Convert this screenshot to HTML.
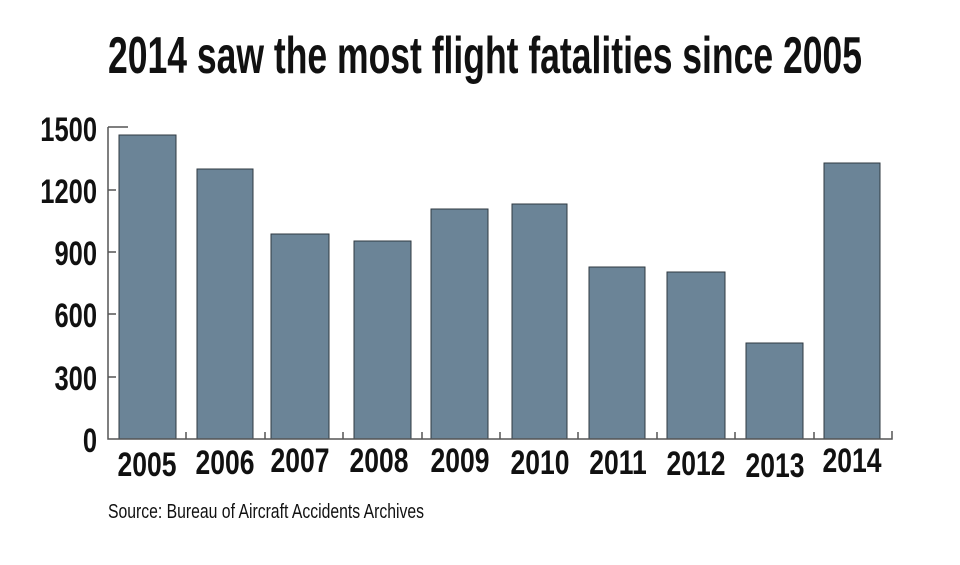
<!DOCTYPE html>
<html><head><style>
body{margin:0;background:#fff;}
svg text{font-family:"Liberation Sans Narrow","Liberation Sans",sans-serif;font-weight:bold;fill:#111;}
.y{font-size:34px;text-anchor:end;}
.x{font-size:34px;text-anchor:middle;}
</style></head><body>
<svg width="960" height="560" viewBox="0 0 960 560" xmlns="http://www.w3.org/2000/svg">
<text x="485" y="73" text-anchor="middle" font-size="52" textLength="754" lengthAdjust="spacingAndGlyphs">2014 saw the most flight fatalities since 2005</text>
<g fill="#6b8497" stroke="#2f3a42" stroke-width="1">
<rect x="119" y="135" width="57" height="304"/>
<rect x="197" y="169" width="56" height="270"/>
<rect x="271" y="234" width="58" height="205"/>
<rect x="354" y="241" width="57" height="198"/>
<rect x="431" y="209" width="57" height="230"/>
<rect x="512" y="204" width="55" height="235"/>
<rect x="589" y="267" width="56" height="172"/>
<rect x="667" y="272" width="58" height="167"/>
<rect x="746" y="343" width="57" height="96"/>
<rect x="824" y="163" width="56" height="276"/>
</g>
<g stroke="#555" stroke-width="1.5" fill="none">
<path d="M108 127V439H892V431"/>
<path d="M108 127h20M108 190h8M108 252h8M108 314h8M108 377h8"/>
<path d="M186 439v-7M265 439v-7M343 439v-7M422 439v-7M500 439v-7M578 439v-7M657 439v-7M735 439v-7M814 439v-7"/>
</g>
<g>
<text class="y" transform="translate(97,141) scale(0.75,1)">1500</text>
<text class="y" transform="translate(97,203) scale(0.75,1)">1200</text>
<text class="y" transform="translate(97,265) scale(0.75,1)">900</text>
<text class="y" transform="translate(97,327) scale(0.75,1)">600</text>
<text class="y" transform="translate(97,390) scale(0.75,1)">300</text>
<text class="y" transform="translate(97,452) scale(0.75,1)">0</text>
</g>
<g>
<text class="x" transform="translate(147,476) scale(0.78,1)">2005</text>
<text class="x" transform="translate(225,474) scale(0.78,1)">2006</text>
<text class="x" transform="translate(300,472) scale(0.78,1)">2007</text>
<text class="x" transform="translate(379,472) scale(0.78,1)">2008</text>
<text class="x" transform="translate(460,472) scale(0.78,1)">2009</text>
<text class="x" transform="translate(540,474) scale(0.78,1)">2010</text>
<text class="x" transform="translate(618,474) scale(0.78,1)">2011</text>
<text class="x" transform="translate(696,475) scale(0.78,1)">2012</text>
<text class="x" transform="translate(775,477) scale(0.78,1)">2013</text>
<text class="x" transform="translate(852,472) scale(0.78,1)">2014</text>
</g>
<text x="108" y="518" font-size="20" style="font-weight:normal" textLength="316" lengthAdjust="spacingAndGlyphs">Source: Bureau of Aircraft Accidents Archives</text>
</svg>
</body></html>
